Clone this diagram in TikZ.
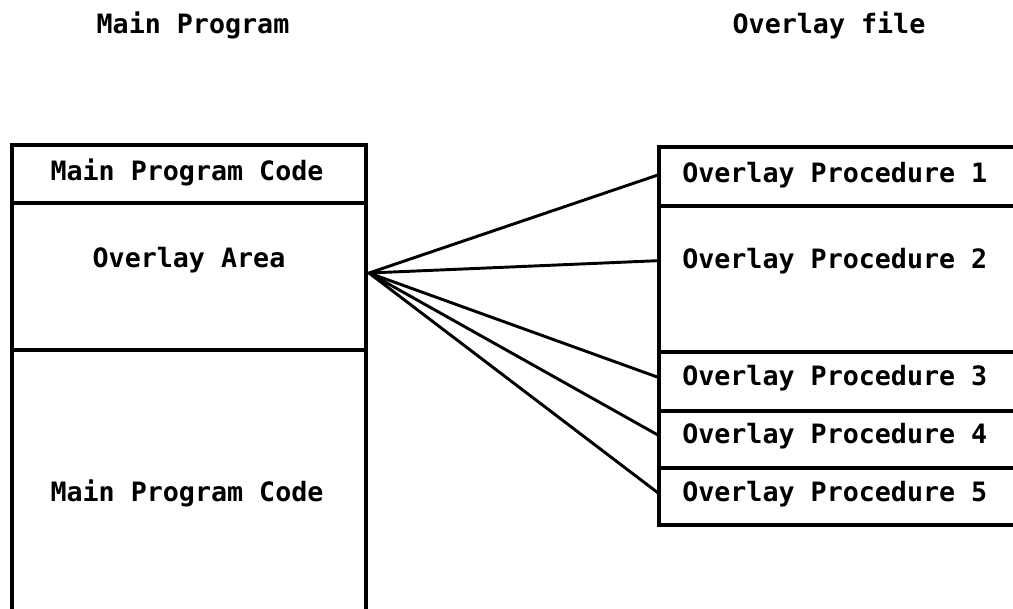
\documentclass[tikz,border=0pt]{standalone}
\usepackage{fontspec}
\newfontfamily\plotterfont{DejaVu Sans Mono}
\usepackage{tikz}
\usetikzlibrary{positioning}
\tikzset{
  boxtext/.style={inner sep=0.75pt, font=\plotterfont\bfseries\fontsize{20}{24}\selectfont},
  headtext/.style={boxtext},
  frame/.style={line width=2.6pt},
  wire/.style={line width=2.2pt, line cap=round},
}

\begin{document}
\begin{tikzpicture}[x=0.75pt,y=0.75pt,yscale=-1,xscale=1]
\clip (0,0) rectangle (1013,608); %picture is 1013 x 608, both boxes run off the edge

%Shape: Rectangle [main program]
\draw [frame] (12,145) rectangle (366,640) ;
\draw [frame] (12,203) -- (366,203) ;
\draw [frame] (12,350) -- (366,350) ;
%Shape: Rectangle [overlay file]
\draw [frame] (659,147) rectangle (1040,525) ;
\draw [line width=3.4pt] (659,147) -- (659,525) ;
\foreach \y in {206,352,411,468}
  \draw [frame] (659,\y) -- (1040,\y) ;

% Text Node
\node [headtext, anchor=base] (headmain) at (193,33) {Main Program};
% Text Node
\node [headtext, anchor=base] (headovl) at (829,33) {Overlay file};
% Text Node
\node [boxtext, anchor=base] (codetop) at (187,180) {Main Program Code};
% Text Node
\node [boxtext, anchor=base] (area) at (189,267) {Overlay Area};
% Text Node
\node [boxtext, anchor=base] (codebot) at (187,501) {Main Program Code};
% Text Node
\node [boxtext, anchor=base west] (proc1) at (681,182) {Overlay Procedure 1};
\node [boxtext, anchor=base west] (proc2) at (681,268) {Overlay Procedure 2};
\node [boxtext, anchor=base west] (proc3) at (681,385) {Overlay Procedure 3};
\node [boxtext, anchor=base west] (proc4) at (681,443) {Overlay Procedure 4};
\node [boxtext, anchor=base west] (proc5) at (681,501) {Overlay Procedure 5};

%Straight Lines [fan from overlay area]
\coordinate (hub) at (369,273) ;
\coordinate (fileedge) at (659,147) ;
\foreach \p in {proc1,proc2,proc3,proc4,proc5}
  \draw [wire] (hub) -- (\p.west -| fileedge) ;

\end{tikzpicture}
\end{document}
